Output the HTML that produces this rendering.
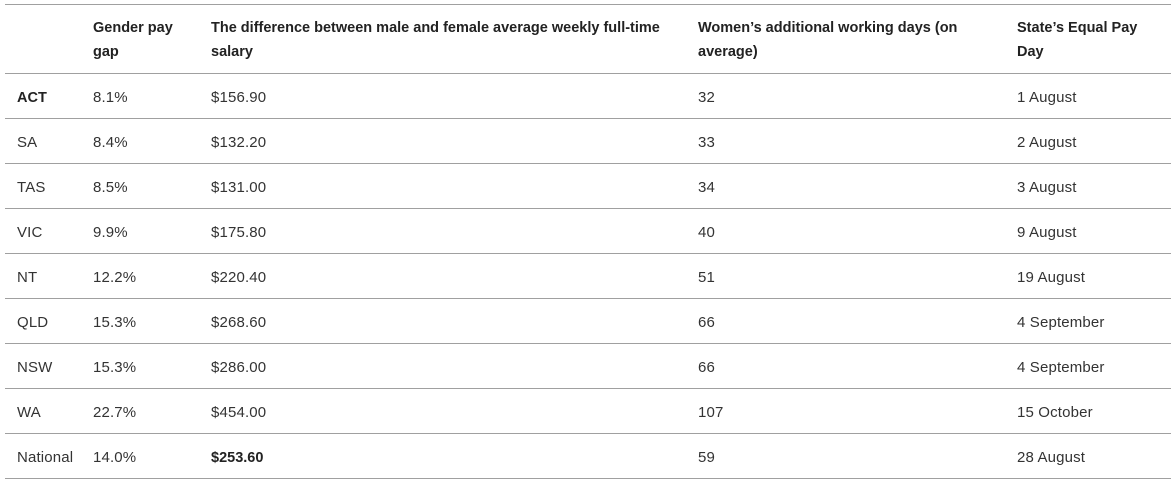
<!DOCTYPE html>
<html><head><style>
body{margin:0;width:1176px;height:486px;background:#fff;font-family:"Liberation Sans",sans-serif;font-size:15px;color:#333;position:relative;overflow:hidden}
.l{position:absolute;left:5px;width:1166px;height:1px;background:#a0a0a0}
.t{position:absolute;white-space:nowrap;line-height:24px;letter-spacing:0.15px}
.h{font-weight:bold;color:#222;font-size:14.5px;letter-spacing:0}
</style></head><body>
<div class="l" style="top:4px"></div>
<div class="l" style="top:73px"></div>
<div class="t h" style="left:93px;top:16px">Gender pay<br>gap</div>
<div class="t h" style="left:211px;top:16px">The difference between male and female average weekly full-time<br>salary</div>
<div class="t h" style="left:698px;top:16px">Women’s additional working days (on<br>average)</div>
<div class="t h" style="left:1017px;top:16px">State’s Equal Pay<br>Day</div>
<div id="rows"></div>
<script>
var d=[["ACT","8.1%","$156.90","32","1 August"],["SA","8.4%","$132.20","33","2 August"],["TAS","8.5%","$131.00","34","3 August"],["VIC","9.9%","$175.80","40","9 August"],["NT","12.2%","$220.40","51","19 August"],["QLD","15.3%","$268.60","66","4 September"],["NSW","15.3%","$286.00","66","4 September"],["WA","22.7%","$454.00","107","15 October"],["National","14.0%","$253.60","59","28 August"]];
var x=[17,93,211,698,1017],h="";
d.forEach(function(r,i){var y=86+45*i;r.forEach(function(c,j){var b=(i==0&&j==0)||(i==8&&j==2);h+='<div class="t'+(b?' h':'')+'" style="left:'+x[j]+'px;top:'+y+'px">'+c+'</div>';});h+='<div class="l" style="top:'+(118+45*i)+'px"></div>';});
document.getElementById("rows").innerHTML=h;
</script>
</body></html>
